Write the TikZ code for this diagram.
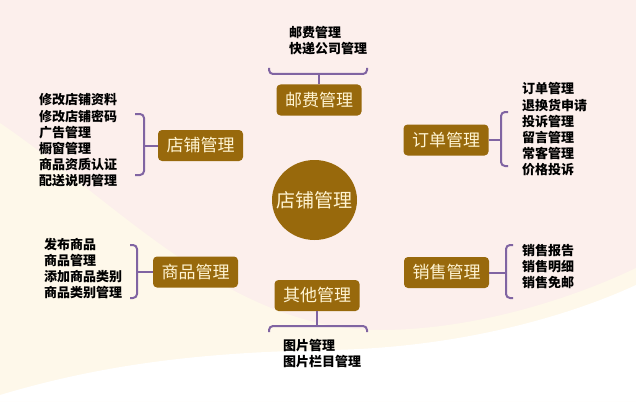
\documentclass[tikz,border=0pt]{standalone}
\usepackage{fontspec}
\newfontfamily\cjk{Noto Sans CJK SC}
\usetikzlibrary{shapes.geometric}
\definecolor{bgpink}{RGB}{252,239,236}
\definecolor{bgcream}{RGB}{254,248,234}
\definecolor{boxbrown}{RGB}{152,105,12}
\definecolor{boxtext}{RGB}{255,244,210}
\definecolor{bracepurple}{RGB}{128,100,162}

\begin{document}
\begin{tikzpicture}[x=1pt,y=-1pt,
    mgmt/.style={rectangle, rounded corners=4pt, fill=boxbrown, text=boxtext, minimum width=85pt, minimum height=31pt, inner sep=0pt, font=\cjk\fontsize{17}{20}\selectfont},
    leaf/.style={align=left, anchor=west, inner sep=0pt, font=\cjk\bfseries\fontsize{13}{16.2}\selectfont},
    brace/.style={draw=bracepurple, line width=2pt, rounded corners=4pt}]

            % Background
            \useasboundingbox (0,0) rectangle (636,401);
            \fill[bgpink] (0,0) rectangle (636,401);
            \fill[bgcream] (0,123) .. controls (120,205) and (230,330) .. (380,330) .. controls (480,330) and (580,295) .. (636,268) -- (636,401) -- (0,401) -- cycle;
            \fill[white] (0,395) .. controls (100,365) and (200,352) .. (330,350) .. controls (450,348) and (560,320) .. (636,285) -- (636,401) -- (0,401) -- cycle;

            % Hub
            \node[ellipse, fill=boxbrown, minimum width=85pt, minimum height=80pt, inner sep=0pt] (hub) at (314.5,200) {};
            \node[text=boxtext, inner sep=0pt, font=\cjk\fontsize{19}{22}\selectfont] (hubtext) at (hub.center) {店铺管理};

            % Modules
            \node[mgmt] (youfei) at (319,100) {邮费管理};
            \node[mgmt] (dianpu) at (200.5,145.5) {店铺管理};
            \node[mgmt] (dingdan) at (446,140) {订单管理};
            \node[mgmt] (shangpin) at (195.5,272) {商品管理};
            \node[mgmt] (xiaoshou) at (446.5,272.5) {销售管理};
            \node[mgmt] (qita) at (317,295.5) {其他管理};

            % Functions
            \node[leaf] (youfei-list) at (289,40.5) {邮费管理\\快递公司管理};
            \node[leaf] (dianpu-list) at (39,140.5) {修改店铺资料\\修改店铺密码\\广告管理\\橱窗管理\\商品资质认证\\配送说明管理};
            \node[leaf] (dingdan-list) at (522,129.5) {订单管理\\退换货申请\\投诉管理\\留言管理\\常客管理\\价格投诉};
            \node[leaf] (shangpin-list) at (44,268.5) {发布商品\\商品管理\\添加商品类别\\商品类别管理};
            \node[leaf] (xiaoshou-list) at (522,266.5) {销售报告\\销售明细\\销售免邮};
            \node[leaf] (qita-list) at (283,353.5) {图片管理\\图片栏目管理};

            % Braces
            \coordinate (yf-l) at (269,68);
            \coordinate (yf-m) at (319,74);
            \coordinate (yf-r) at (367,68);
            \draw[brace] (yf-l) |- (yf-m) -| (yf-r);
            \draw[brace] (yf-m) -- (youfei.north);

            \coordinate (dp-t) at (135,114);
            \coordinate (dp-m) at (144,145.5);
            \coordinate (dp-b) at (135,175);
            \draw[brace] (dp-t) -| (dp-m) |- (dp-b);
            \draw[brace] (dp-m) -- (dianpu.west);

            \coordinate (dd-t) at (508,112);
            \coordinate (dd-m) at (501,140);
            \coordinate (dd-b) at (508,166);
            \draw[brace] (dd-t) -| (dd-m) |- (dd-b);
            \draw[brace] (dd-m) -- (dingdan.east);

            \coordinate (sp-t) at (130,245);
            \coordinate (sp-m) at (137,272);
            \coordinate (sp-b) at (130,298);
            \draw[brace] (sp-t) -| (sp-m) |- (sp-b);
            \draw[brace] (sp-m) -- (shangpin.west);

            \coordinate (xs-t) at (513,245);
            \coordinate (xs-m) at (506,272.5);
            \coordinate (xs-b) at (513,298);
            \draw[brace] (xs-t) -| (xs-m) |- (xs-b);
            \draw[brace] (xs-m) -- (xiaoshou.east);

            \coordinate (qt-l) at (269,332);
            \coordinate (qt-m) at (317,326);
            \coordinate (qt-r) at (367,332);
            \draw[brace] (qt-l) |- (qt-m) -| (qt-r);
            \draw[brace] (qt-m) -- (qita.south);
\end{tikzpicture}
\end{document}
